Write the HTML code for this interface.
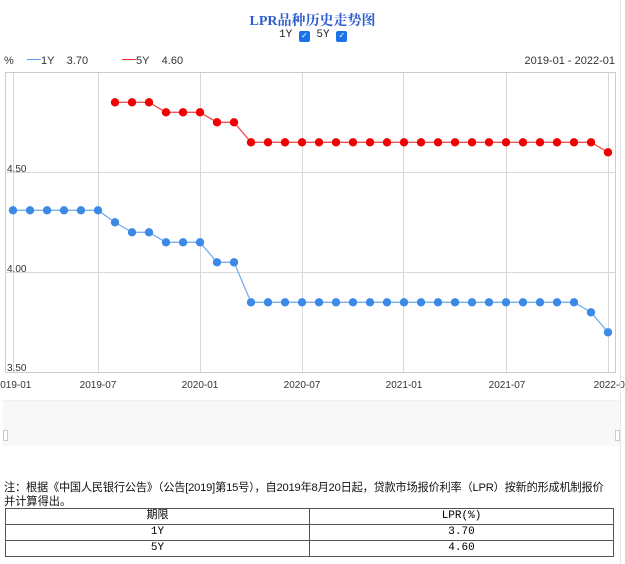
<!DOCTYPE html>
<html><head><meta charset="utf-8"><style>
body{margin:0;width:625px;height:564px;background:#fff;font-family:"Liberation Sans","Noto Sans CJK SC",sans-serif;position:relative;overflow:hidden}
.a{position:absolute;white-space:nowrap}
table{position:absolute;left:5px;top:508px;width:609px;border-collapse:collapse;font-family:"Liberation Mono","Noto Sans CJK SC",monospace;font-size:11px}
td{border:1px solid #555;text-align:center;height:15px;padding:0;line-height:15px}
</style></head><body>
<div class="a" style="left:0;top:10px;width:625px;text-align:center;font:bold 14px 'Liberation Serif','Noto Serif CJK SC',serif;color:#2d5ccc">LPR品种历史走势图</div>
<div class="a" style="left:279px;top:29px;font:11px 'Liberation Mono',monospace;color:#222">1Y <span style="display:inline-block;width:11px;height:11px;background:#1a73e8;border-radius:2px;color:#fff;font-size:9px;line-height:11px;text-align:center;vertical-align:-1px">✓</span> 5Y <span style="display:inline-block;width:11px;height:11px;background:#1a73e8;border-radius:2px;color:#fff;font-size:9px;line-height:11px;text-align:center;vertical-align:-1px">✓</span></div>
<div class="a" style="left:4px;top:55px;font-size:11px;color:#333">%</div>
<div class="a" style="left:27px;top:55px;font-size:11px;color:#333"><span style="display:inline-block;width:14px;height:1px;background:#5b9bf0;vertical-align:4px"></span>1Y&nbsp;&nbsp;&nbsp;&nbsp;3.70</div>
<div class="a" style="left:122px;top:55px;font-size:11px;color:#333"><span style="display:inline-block;width:14px;height:1px;background:#f03030;vertical-align:4px"></span>5Y&nbsp;&nbsp;&nbsp;&nbsp;4.60</div>
<div class="a" style="right:10px;top:55px;font-size:11px;color:#333">2019-01 - 2022-01</div>
<svg class="a" style="left:0;top:0" width="625" height="400">
<defs>
<marker id="mb" markerWidth="10" markerHeight="10" refX="5" refY="5" markerUnits="userSpaceOnUse"><circle cx="5" cy="5" r="4.2" fill="#3d8ae6"/></marker>
<marker id="mr" markerWidth="10" markerHeight="10" refX="5" refY="5" markerUnits="userSpaceOnUse"><circle cx="5" cy="5" r="4.2" fill="#f00000"/></marker>
</defs>
<rect x="5.5" y="72.5" width="610" height="300" fill="#fff" stroke="#c8ccd4"/>
<g stroke="#d8d8dc" stroke-width="1">
<line x1="5" x2="616" y1="172.5" y2="172.5"/><line x1="5" x2="616" y1="272.5" y2="272.5"/>
<line x1="13.5" x2="13.5" y1="73" y2="372"/><line x1="98.5" x2="98.5" y1="73" y2="372"/><line x1="200.5" x2="200.5" y1="73" y2="372"/><line x1="302.5" x2="302.5" y1="73" y2="372"/><line x1="403.5" x2="403.5" y1="73" y2="372"/><line x1="506.5" x2="506.5" y1="73" y2="372"/><line x1="608.5" x2="608.5" y1="73" y2="372"/>
</g>
<g font-size="10" fill="#333" font-family="Liberation Sans,sans-serif">
<text x="7" y="172">4.50</text><text x="7" y="272">4.00</text><text x="7" y="371">3.50</text>
<g text-anchor="middle"><text x="13" y="388">2019-01</text><text x="98" y="388">2019-07</text><text x="200" y="388">2020-01</text><text x="302" y="388">2020-07</text><text x="404" y="388">2021-01</text><text x="507" y="388">2021-07</text><text x="612" y="388">2022-01</text></g>
</g>
<polyline fill="none" stroke="#7aaef0" stroke-width="1.3" marker-start="url(#mb)" marker-mid="url(#mb)" marker-end="url(#mb)"
points="13,210.3 30,210.3 47,210.3 64,210.3 81,210.3 98,210.3 115,222.3 132,232.3 149,232.3 166,242.3 183,242.3 200,242.3 217,262.3 234,262.3 251,302.3 268,302.3 285,302.3 302,302.3 319,302.3 336,302.3 353,302.3 370,302.3 387,302.3 404,302.3 421,302.3 438,302.3 455,302.3 472,302.3 489,302.3 506,302.3 523,302.3 540,302.3 557,302.3 574,302.3 591,312.3 608,332.3"/>
<polyline fill="none" stroke="#f05050" stroke-width="1.3" marker-start="url(#mr)" marker-mid="url(#mr)" marker-end="url(#mr)"
points="115,102.3 132,102.3 149,102.3 166,112.3 183,112.3 200,112.3 217,122.3 234,122.3 251,142.3 268,142.3 285,142.3 302,142.3 319,142.3 336,142.3 353,142.3 370,142.3 387,142.3 404,142.3 421,142.3 438,142.3 455,142.3 472,142.3 489,142.3 506,142.3 523,142.3 540,142.3 557,142.3 574,142.3 591,142.3 608,152.3"/>
</svg>
<div class="a" style="left:3px;top:400px;width:617px;height:45px;background:#f8f8f8;border-top:1px solid #f0f0f0"></div>
<div class="a" style="left:3px;top:430px;width:3px;height:9px;border:1px solid #ccc;background:#fff"></div>
<div class="a" style="left:615px;top:430px;width:3px;height:9px;border:1px solid #ccc;background:#fff"></div>
<div class="a" style="left:620px;top:0;width:1px;height:564px;background:#e6e6e6"></div>
<div class="a" style="left:4px;top:481px;font-size:11.2px;line-height:15px;color:#111;letter-spacing:-0.2px">注：根据《中国人民银行公告》（公告[2019]第15号），自2019年8月20日起，贷款市场报价利率（LPR）按新的形成机制报价</div>
<div class="a" style="left:4px;top:495px;font-size:11.2px;line-height:15px;color:#111">并计算得出。</div>
<table><tr><td style="width:50%">期限</td><td>LPR(%)</td></tr><tr><td>1Y</td><td>3.70</td></tr><tr><td>5Y</td><td>4.60</td></tr></table>
</body></html>
